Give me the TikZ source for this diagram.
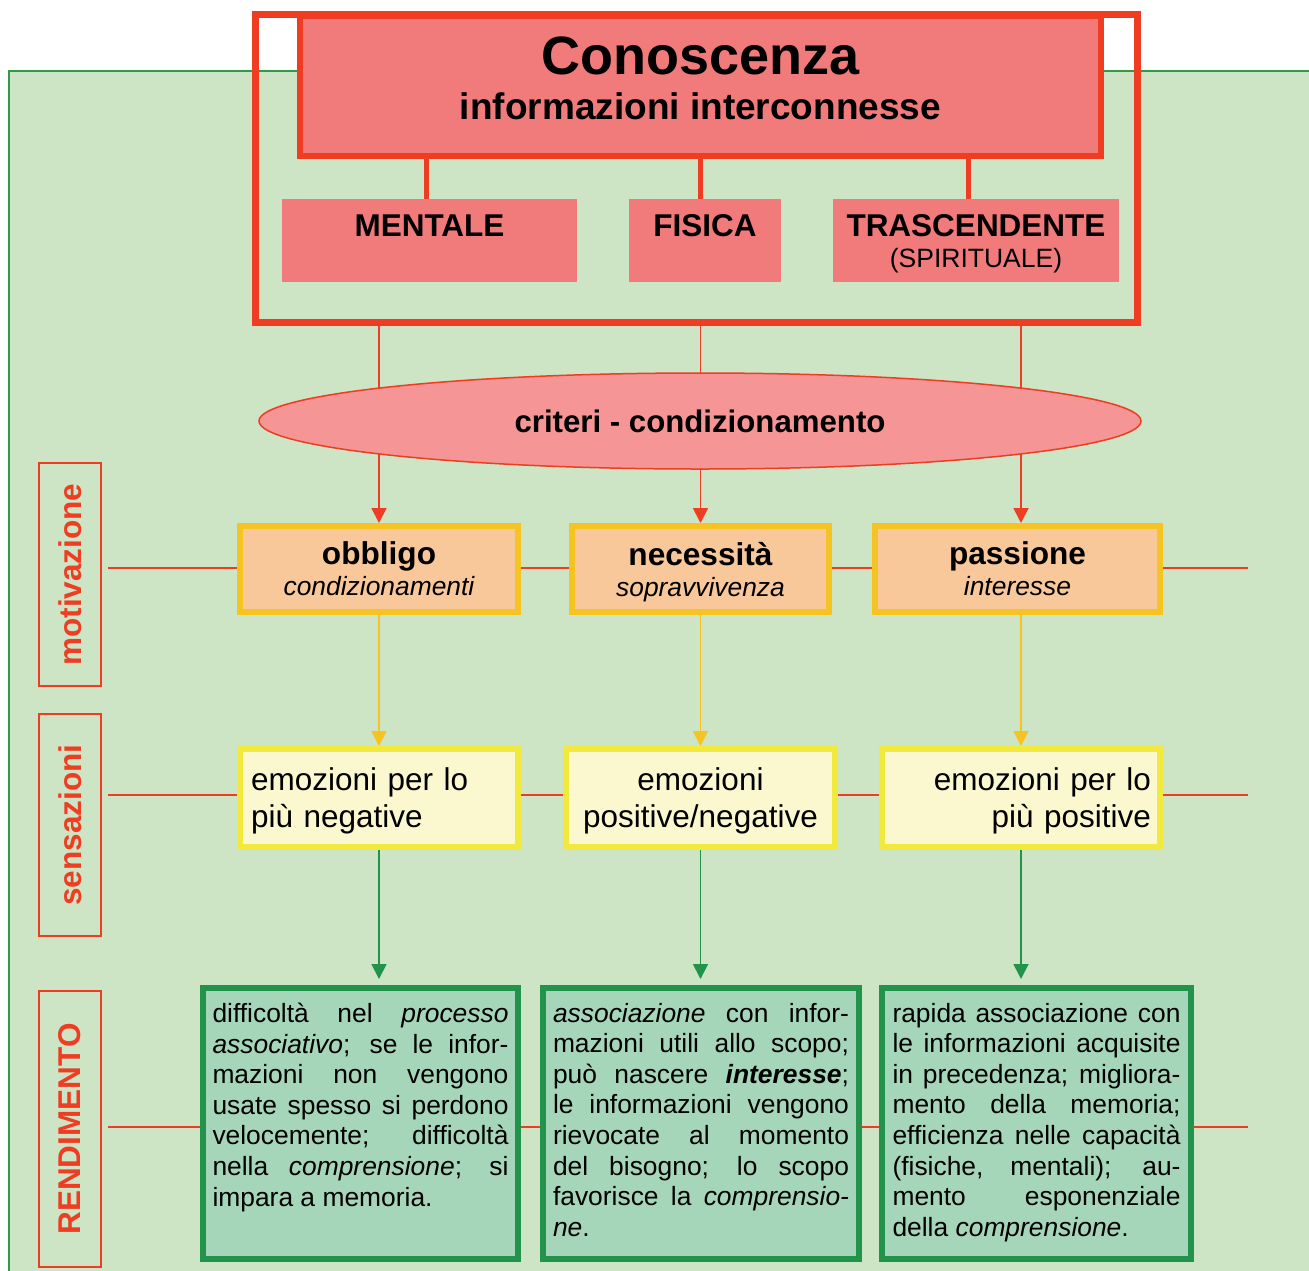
\documentclass[tikz,border=0pt]{standalone}
\usepackage{fontspec}
\setmainfont{Liberation Sans}
\usetikzlibrary{shapes.geometric,arrows.meta}
\pgfdeclarelayer{back}
\pgfdeclarelayer{mid}
\pgfsetlayers{back,mid,main}

\definecolor{redline}{HTML}{EE3D23}
\definecolor{rosefill}{HTML}{F17A7B}
\definecolor{ellfill}{HTML}{F59595}
\definecolor{paleGreen}{HTML}{CDE5C4}
\definecolor{edgeGreen}{HTML}{2F9A48}
\definecolor{peach}{HTML}{F9C89A}
\definecolor{amber}{HTML}{F5C423}
\definecolor{cream}{HTML}{FBF8CF}
\definecolor{lemon}{HTML}{F2E93F}
\definecolor{mint}{HTML}{A6D6BA}
\definecolor{forest}{HTML}{22934A}

% justified text block, aligned to the top of its box
\newcommand\rendtext[2]{\parbox[c][241pt][t]{#1}{\fontsize{26.4}{30.6}\selectfont
  \hyphenpenalty=10000 \exhyphenpenalty=10000 \tolerance=10000 #2}}

\begin{document}
\begin{tikzpicture}[x=1pt,y=-1pt,
  subbox/.style={fill=rosefill, minimum height=83pt, inner sep=0pt, align=center,
    text height=59pt, font=\fontsize{31.5}{31}\selectfont},
  motbox/.style={draw=amber, line width=6pt, fill=peach, minimum height=86pt,
    inner sep=0pt, align=center, text depth=0pt, font=\fontsize{31.6}{31}\selectfont},
  senbox/.style={draw=lemon, line width=6pt, fill=cream, minimum height=98pt,
    inner ysep=0pt, font=\fontsize{31.5}{37}\selectfont},
  rendbox/.style={draw=forest, line width=6pt, fill=mint, minimum height=271pt, inner sep=0pt},
  sidelabel/.style={draw=redline, line width=2pt, text=redline, rotate=90,
    minimum height=62pt, inner sep=0pt, font=\fontsize{31.5}{31}\selectfont\bfseries},
  thinred/.style={draw=redline, line width=1.8pt},
  redarrow/.style={thinred, -{Triangle[length=15pt,width=15pt]}},
  yelarrow/.style={draw=amber, line width=1.8pt, -{Triangle[length=15pt,width=15pt]}},
  grnarrow/.style={draw=forest, line width=1.8pt, -{Triangle[length=15pt,width=15pt]}, shorten >=6pt},
  kinline/.style={draw=redline, line width=5pt}
]
\useasboundingbox (0,0) rectangle (1309,1270);

% green panel
\begin{pgfonlayer}{back}
  \fill[paleGreen] (9,71) rectangle (1320,1280);
  \draw[edgeGreen, line width=2pt] (9,1280) -- (9,71) -- (1320,71);
\end{pgfonlayer}

% knowledge block
\node[draw=redline, line width=7pt, minimum width=882pt, minimum height=308pt, inner sep=0pt]
  (frame) at (696.5,168.5) {};
\node[draw=redline, line width=6pt, fill=rosefill, minimum width=801pt, minimum height=140pt,
  inner sep=0pt, align=center, text depth=16pt, font=\fontsize{54}{45}\selectfont\bfseries]
  (con) at (700.5,86)
  {Conoscenza\\{\fontsize{37}{45}\selectfont informazioni interconnesse}};

\node[subbox, minimum width=295pt] (mentale) at (429.5,240.5)
  {\textbf{MENTALE}\\{\fontsize{26.5}{31}\selectfont\vphantom{(SPIRITUALE)}}};
\node[subbox, minimum width=152pt] (fisica) at (705,240.5)
  {\textbf{FISICA}\\{\fontsize{26.5}{31}\selectfont\vphantom{(SPIRITUALE)}}};
\node[subbox, minimum width=286pt] (trasc) at (976,240.5)
  {\textbf{TRASCENDENTE}\\{\fontsize{26.5}{31}\selectfont (SPIRITUALE)}};

\node[ellipse, draw=redline, line width=1.5pt, fill=ellfill, minimum width=882pt,
  minimum height=96pt, inner sep=0pt, font=\fontsize{31.2}{30}\selectfont\bfseries]
  (crit) at (700,421) {criteri - condizionamento};

% motivation row
\node[motbox, minimum width=278pt] (ob) at (379,569)
  {\textbf{obbligo}\\{\fontsize{26.4}{31}\selectfont\itshape condizionamenti}};
\node[motbox, minimum width=257pt] (ne) at (700.5,569)
  {\textbf{necessità}\\{\fontsize{26.4}{31}\selectfont\itshape sopravvivenza}};
\node[motbox, minimum width=285pt] (pa) at (1017.5,569)
  {\textbf{passione}\\{\fontsize{26.4}{31}\selectfont\itshape interesse}};

% feelings row
\node[senbox, minimum width=278pt, inner xsep=11pt, text width=256pt, align=left,
  text height=29pt] (sn1) at (379,798) {emozioni per lo\\più negative};
\node[senbox, minimum width=269pt, inner xsep=0pt, align=center, text depth=0pt]
  (sn2) at (700.5,798) {emozioni\\positive/negative};
\node[senbox, minimum width=278pt, inner xsep=9pt, text width=260pt, align=right,
  text height=29pt] (sn3) at (1021,798) {emozioni per lo\\più positive};

% performance row
\node[rendbox, minimum width=315pt] (r1) at (360.5,1123.5) {\rendtext{296pt}{%
difficoltà nel \textit{processo}\linebreak
\textit{associativo}; se le infor-\linebreak
mazioni non vengono\linebreak
usate spesso si perdono\linebreak
velocemente; difficoltà\linebreak
nella \textit{comprensione}; si\linebreak
impara a memoria.}};
\node[rendbox, minimum width=316pt] (r2) at (701,1123.5) {\rendtext{296pt}{%
\textit{associazione} con infor-\linebreak
mazioni utili allo scopo;\linebreak
può nascere \textbf{\textit{interesse}};\linebreak
le informazioni vengono\linebreak
rievocate al momento\linebreak
del bisogno; lo scopo\linebreak
favorisce la \textit{comprensio-}\linebreak
\textit{ne}.}};
\node[rendbox, minimum width=309pt] (r3) at (1036.5,1123.5) {\rendtext{288pt}{%
rapida associazione con\linebreak
le informazioni acquisite\linebreak
in precedenza; migliora-\linebreak
mento della memoria;\linebreak
efficienza nelle capacità\linebreak
(fisiche, mentali); au-\linebreak
mento esponenziale\linebreak
della \textit{comprensione}.}};

% side labels
\node[sidelabel, minimum width=223pt] (motlab) at (70,574.5) {motivazione};
\node[sidelabel, minimum width=222pt] (senlab) at (70,825) {sensazioni};
\node[sidelabel, minimum width=276pt] (rendlab) at (70,1129) {RENDIMENTO};

% free ends of the row lines
\coordinate (mL) at (108,568);   \coordinate (mR) at (1248,568);
\coordinate (sL) at (108,795);   \coordinate (sR) at (1248,795);
\coordinate (rL) at (108,1127);  \coordinate (rR) at (1248,1127);

\begin{pgfonlayer}{mid}
  % row lines
  \draw[thinred] (mL) -- (mR);
  \draw[thinred] (sL) -- (sR);
  \draw[thinred] (rL) -- (rR);
  % knowledge -> kinds
  \draw[kinline] ([xshift=-3.5pt]mentale.north) -- ([xshift=-3.5pt]mentale.north |- con.south);
  \draw[kinline] ([xshift=-5pt]fisica.north) -- ([xshift=-5pt]fisica.north |- con.south);
  \draw[kinline] ([xshift=-8pt]trasc.north) -- ([xshift=-8pt]trasc.north |- con.south);
  % frame -> criteria -> motivation
  \draw[thinred] (frame.south -| ob.north) -- (crit.center -| ob.north);
  \draw[redarrow] (crit.center -| ob.north) -- (ob.north);
  \draw[thinred] (frame.south -| ne.north) -- (crit.center -| ne.north);
  \draw[redarrow] (crit.center -| ne.north) -- (ne.north);
  \draw[thinred] ([xshift=3.5pt]pa.north |- frame.south) -- ([xshift=3.5pt]pa.north |- crit.center);
  \draw[redarrow] ([xshift=3.5pt]pa.north |- crit.center) -- ([xshift=3.5pt]pa.north);
  % motivation -> feelings
  \draw[yelarrow] (ob.south) -- (sn1.north);
  \draw[yelarrow] (ne.south) -- (sn2.north);
  \draw[yelarrow] (sn3.north |- pa.south) -- (sn3.north);
  % feelings -> performance
  \draw[grnarrow] (sn1.south) -- (sn1.south |- r1.north);
  \draw[grnarrow] (sn2.south) -- (sn2.south |- r2.north);
  \draw[grnarrow] (sn3.south) -- (sn3.south |- r3.north);
\end{pgfonlayer}
\end{tikzpicture}
\end{document}
